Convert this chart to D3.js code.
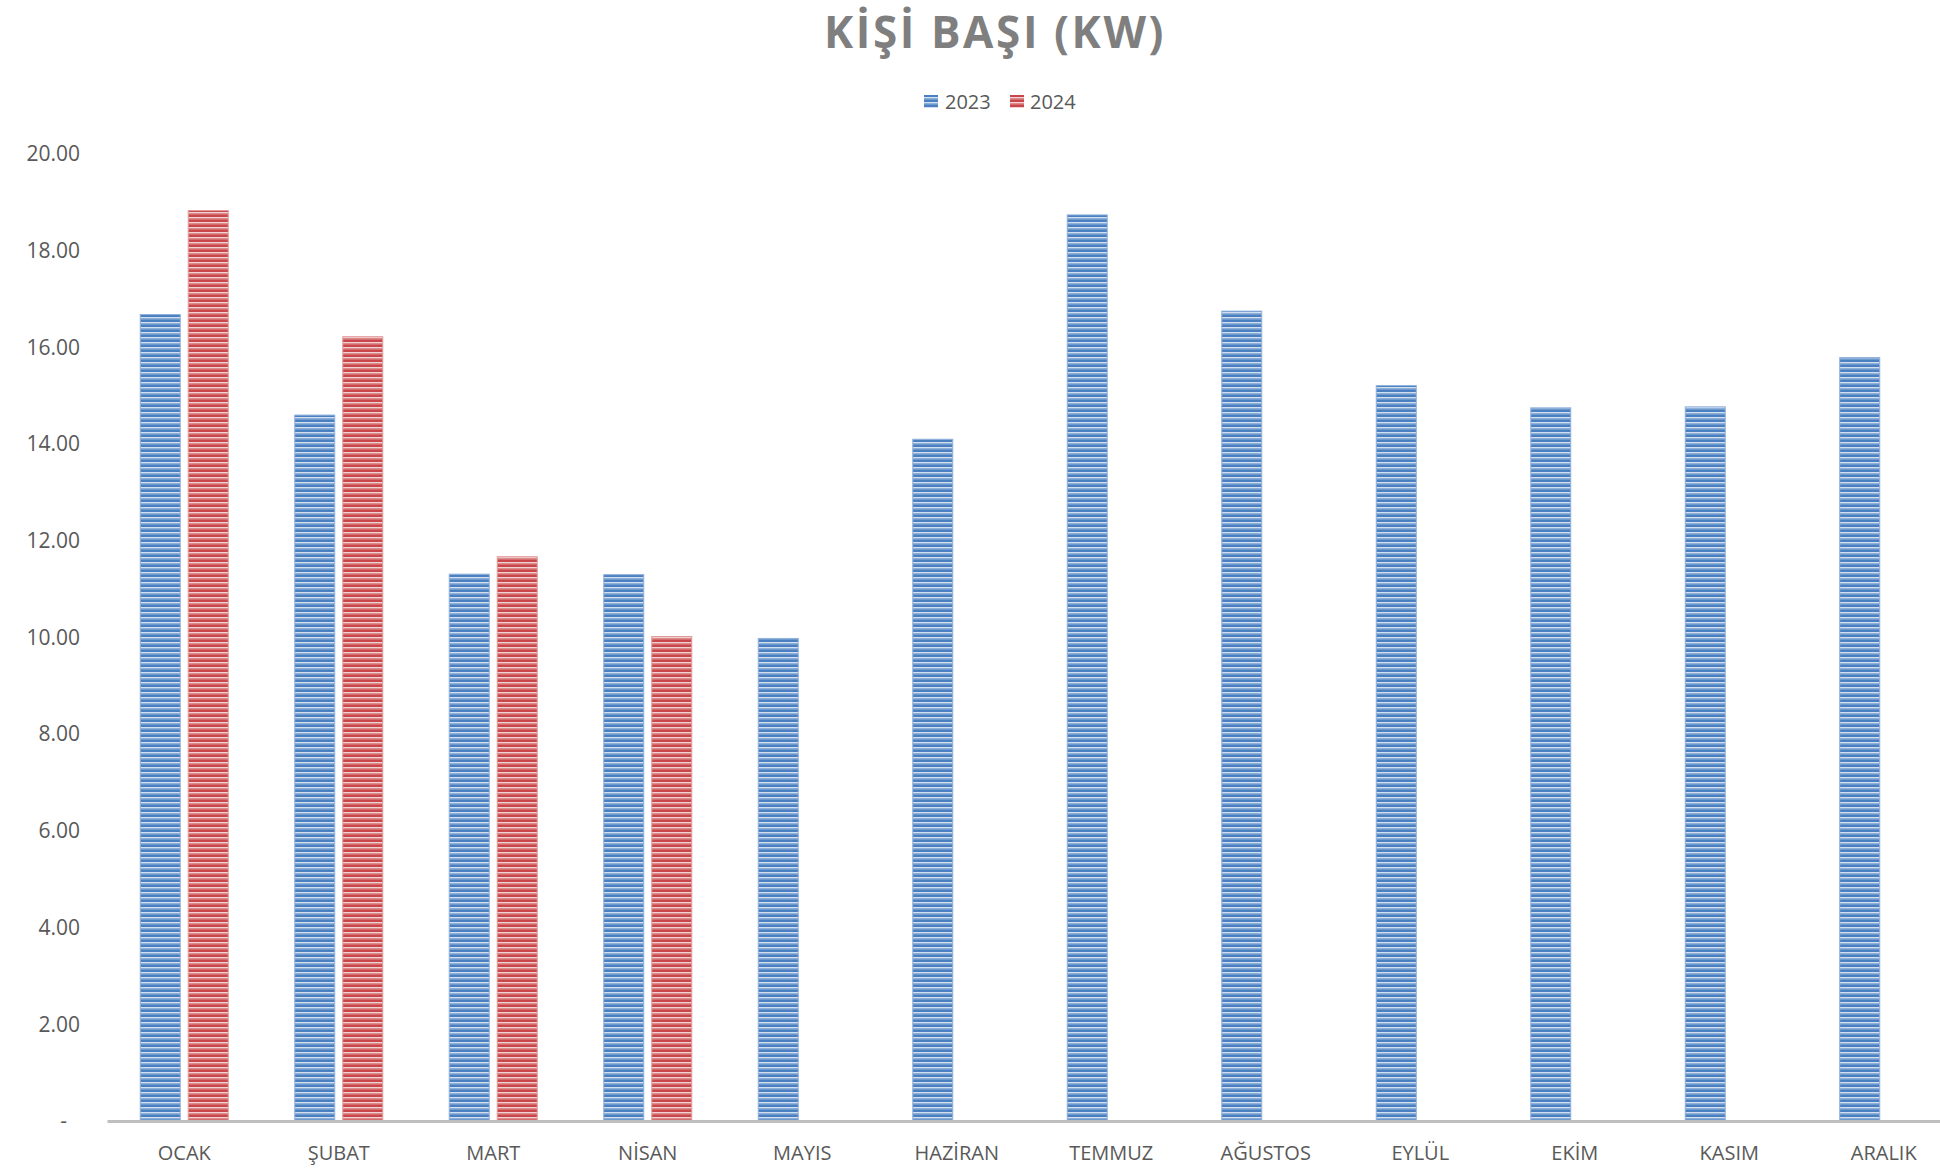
<!DOCTYPE html>
<html>
<head>
<meta charset="utf-8">
<script src="https://cdn.jsdelivr.net/npm/d3@7/dist/d3.min.js"></script>
<style>
html,body{margin:0;padding:0;background:#fff;}
svg{display:block;}
text{font-family:"Open Sans",sans-serif;}
</style>
</head>
<body>
<svg id="chart" width="1940" height="1170"></svg>
<script>
const categories = ["OCAK","ŞUBAT","MART","NİSAN","MAYIS","HAZİRAN","TEMMUZ","AĞUSTOS","EYLÜL","EKİM","KASIM","ARALIK"];
const seriesNames = ["2023","2024"];
const values2023 = [16.68,14.60,11.31,11.30,9.98,14.10,18.74,16.75,15.21,14.75,14.77,15.79];
const values2024 = [18.83,16.22,11.67,10.02,null,null,null,null,null,null,null,null];
const yTicks = [0,2,4,6,8,10,12,14,16,18,20];
const colors = ["#4a7fc1","#c9474a"];

const svg = d3.select("#chart");

// patterns
const defs = svg.append("defs");
colors.forEach((c,i)=>{
  const p = defs.append("pattern").attr("id","pat"+i).attr("patternUnits","userSpaceOnUse")
    .attr("width",8).attr("height",5);
  p.append("rect").attr("width",8).attr("height",5).attr("fill",c);
  p.append("rect").attr("y",2).attr("width",8).attr("height",1.5).attr("fill","#ffffff").attr("opacity",0.75);
  p.append("rect").attr("y",4.2).attr("width",8).attr("height",0.8).attr("fill","#ffffff").attr("opacity",0.25);
});

const x = d3.scaleBand().domain(categories).range([107,1961]).paddingInner(0).paddingOuter(0);
const y = d3.scaleLinear().domain([0,20]).range([1121,154]);
const barW = 40, gap = 8;

// title
svg.append("text").attr("x",995).attr("y",48).attr("text-anchor","middle")
  .attr("font-size",44).attr("font-weight",700).attr("letter-spacing",2.6)
  .attr("fill","#7f7f7f").text("KİŞİ BAŞI (KW)");

// legend
const leg = svg.append("g");
[[924,945],[1010,1030]].forEach((p,i)=>{
  leg.append("rect").attr("x",p[0]).attr("y",95).attr("width",14).attr("height",13).attr("fill","url(#pat"+i+")");
  leg.append("text").attr("x",p[1]).attr("y",109).attr("font-size",20).attr("fill","#595959").text(seriesNames[i]);
});

// y axis labels
const yAxis = d3.axisLeft(y).tickValues(yTicks).tickSize(0).tickPadding(0)
  .tickFormat(d=> d===0 ? "-" : d3.format(".2f")(d));
const yg = svg.append("g").attr("transform","translate(80,0)").call(yAxis);
yg.select(".domain").remove();
yg.selectAll("text").attr("font-size",21).attr("fill","#595959").attr("font-family","'Open Sans',sans-serif");
yg.selectAll(".tick").filter(d=>d===0).select("text").attr("x",-13);

// bars
const data = [];
categories.forEach((c,i)=>{
  [values2023[i],values2024[i]].forEach((v,s)=>{
    if(v!=null) data.push({c,s,v});
  });
});
svg.append("g").selectAll("rect").data(data).enter().append("rect")
  .attr("x",d=> x(d.c)+x.bandwidth()/2 + (d.s===0 ? -gap/2-barW : gap/2))
  .attr("y",d=>y(d.v)).attr("width",barW).attr("height",d=>y(0)-y(d.v))
  .attr("fill",d=>"url(#pat"+d.s+")")
  .attr("stroke",d=> d.s===0 ? "#8fb0dc" : "#e29a9b").attr("stroke-width",1);

// x axis
const xAxis = d3.axisBottom(x).tickSize(0).tickPadding(0);
const xg = svg.append("g").attr("transform","translate(0,1121)").call(xAxis);
xg.select(".domain").attr("stroke","#bfbfbf").attr("stroke-width",3);
xg.selectAll("text").attr("font-size",20).attr("fill","#595959").attr("dy",0).attr("y",39)
  .attr("font-family","'Open Sans',sans-serif");
</script>
</body>
</html>
